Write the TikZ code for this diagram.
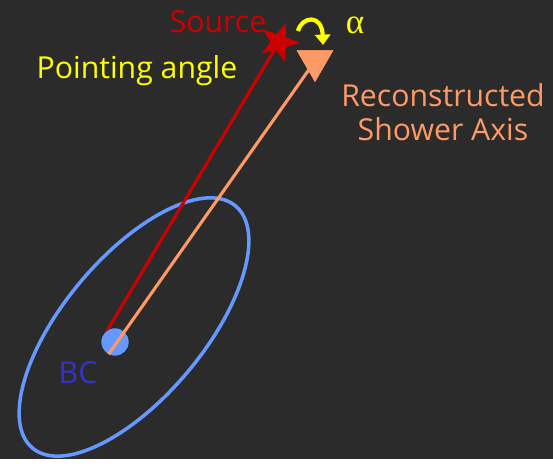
\documentclass[tikz,border=0pt]{standalone}
\usepackage{fontspec}
\setmainfont{Open Sans}
\newfontfamily\greekfont{Liberation Serif}
\usepackage{tikz}
\usetikzlibrary{shapes.geometric, arrows.meta, positioning}
\definecolor{cBack}{RGB}{43,43,43}
\definecolor{cBlue}{RGB}{102,153,255}
\definecolor{cDeep}{RGB}{51,51,204}
\definecolor{cRed}{RGB}{204,0,0}
\definecolor{cSalmon}{RGB}{255,153,102}
\definecolor{cYellow}{RGB}{255,255,0}
\tikzset{
	lbl/.style      ={font=\fontsize{21.5}{24}\selectfont, inner sep=0pt, align=center},
	bcdot/.style    ={circle, fill=cBlue, minimum size=27*0.025cm, inner sep=0pt},
	srcstar/.style  ={star, star points=5, star point ratio=2.4, fill=cRed, minimum size=40*0.025cm, inner sep=0pt, rotate=-20},
	axistip/.style  ={regular polygon, regular polygon sides=3, shape border rotate=180, fill=cSalmon, minimum size=42*0.025cm, inner sep=0pt},
	srcline/.style  ={cRed, line width=2.2pt},
	axisline/.style ={cSalmon, line width=2.2pt},
	% angle marker between the two directions
	alphaarc/.style ={cYellow, line width=3pt, -{Triangle[length=2.6mm, width=3.8mm]}},
}
\begin{document}
\begin{tikzpicture}[x=0.025cm, y=-0.025cm]
	\fill[cBack] (0,0) rectangle (553,459);
	% acceptance ellipse
	\draw[cBlue, line width=2.5pt, rotate around={50:(134,327)}] (134,327) ellipse [x radius=158, y radius=70];
	\node[bcdot] (bc) at (115,342) {};
	\node[srcstar] (src) at (279,42) {};
	\node[axistip] (tip) at (315,61) {};
	\coordinate (arcfrom) at (298,31);
	\coordinate (arcto) at (323,45);
	\draw[srcline] (bc.125) -- (src.center);
	\node[bcdot] at (bc) {};
	\draw[axisline] (bc.242) -- (tip.center);
	\node[axistip] at (tip) {};
	\node[srcstar] at (src) {};
	\draw[alphaarc] (arcfrom) .. controls (302,16) and (322,14) .. (arcto);
	% labels
	\node[lbl, text=cRed] (srclbl) at (218,22) {Source};
	\node[lbl, text=cYellow] (alpha) at (355,25) {\greekfont\fontsize{25}{25}\selectfont α};
	\node[lbl, text=cYellow] (pointlbl) at (137,71) {Pointing angle};
	\node[lbl, text=cSalmon] (axislbl) at (443,112) {Reconstructed\\Shower Axis};
	\node[lbl, text=cDeep] (bclbl) at (78,373) {BC};
\end{tikzpicture}
\end{document}
